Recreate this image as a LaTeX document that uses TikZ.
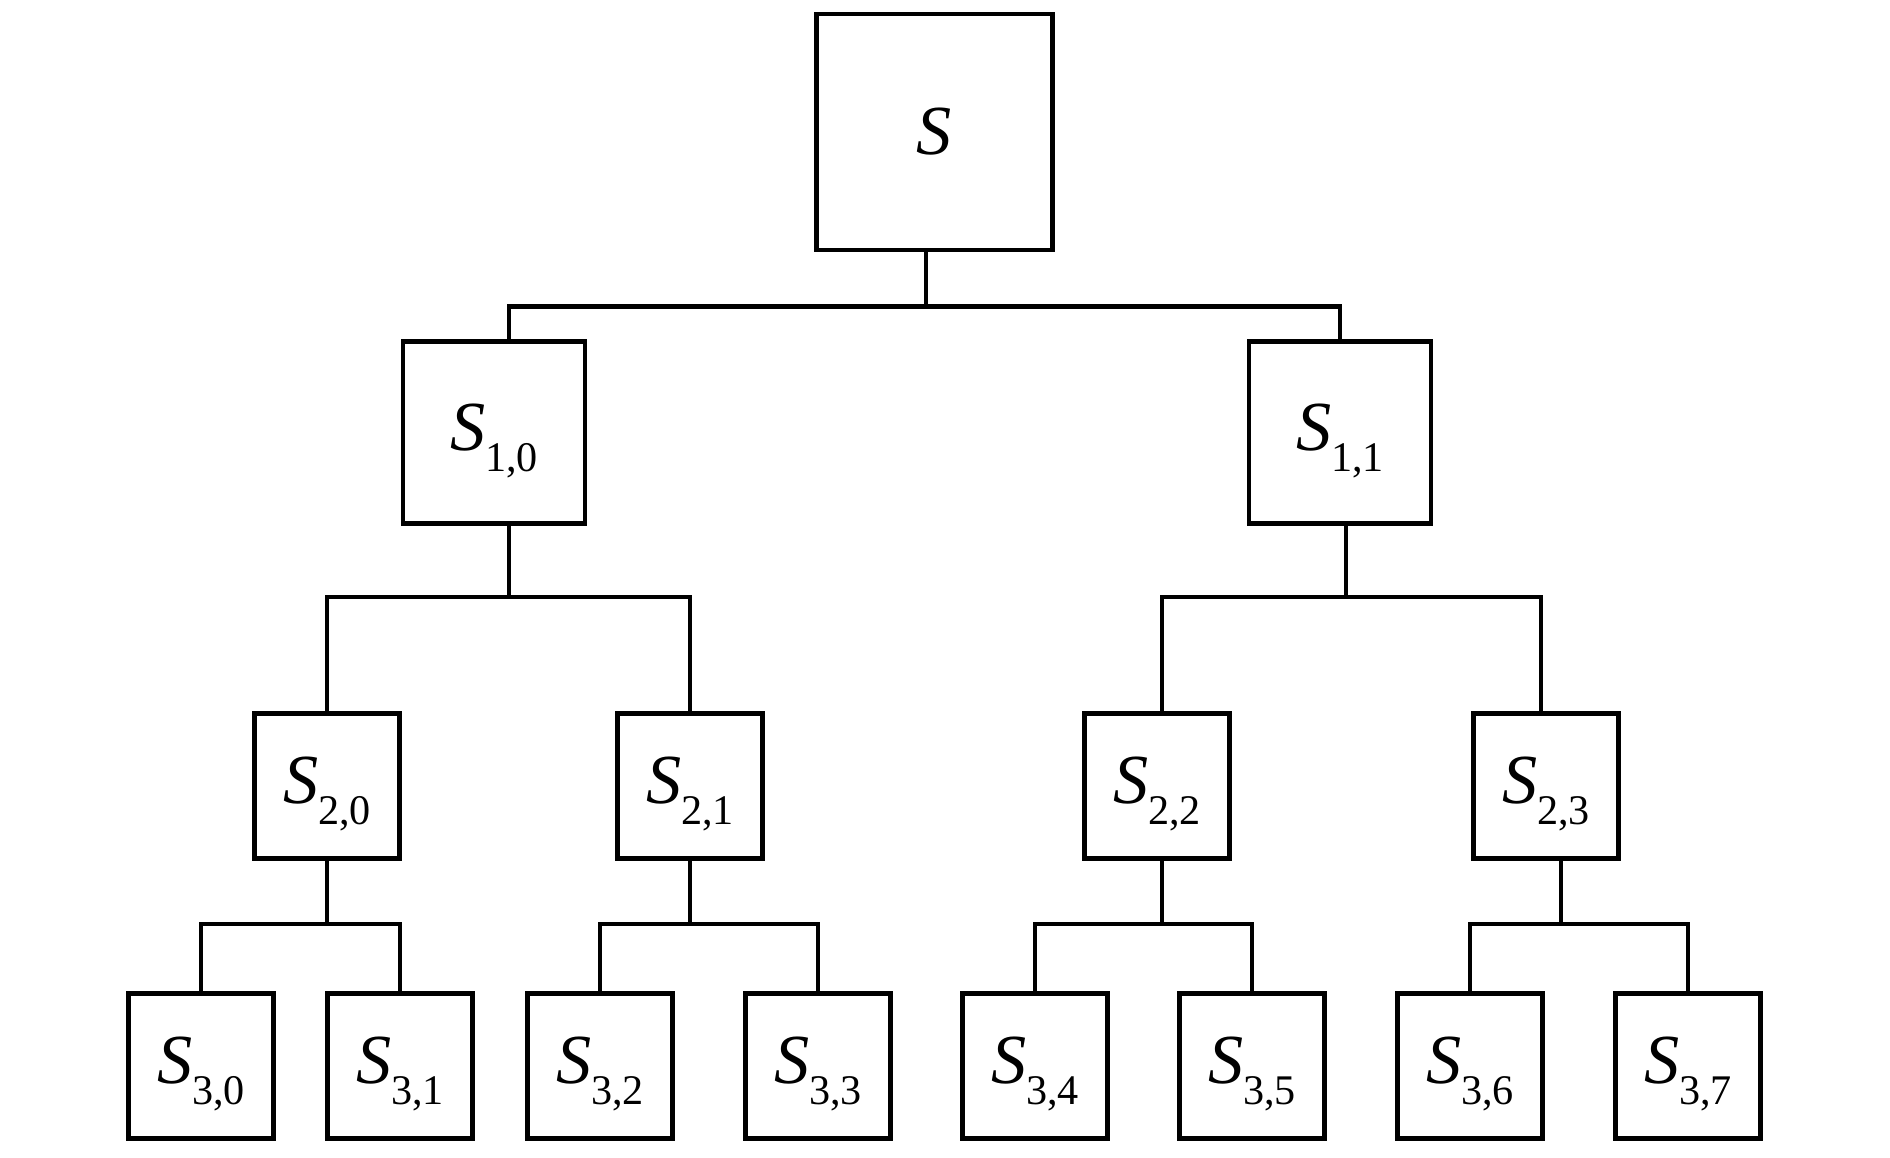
\documentclass[tikz,border=0pt]{standalone}
\usepackage{fontspec}
\setmainfont{Liberation Serif}
\newcommand\slbl[1]{\rule{0pt}{18pt}\textit{S}\raisebox{-6pt}{\fontsize{12}{12}\selectfont #1}}
\tikzset{
  blk/.style={draw, line width=1.3pt, inner sep=0pt, fill=white, font=\fontsize{20}{20}\selectfont},
  link/.style={line width=1.3pt},
}
\begin{document}
\begin{tikzpicture}[x=0.01cm, y=-0.01cm]
\useasboundingbox (0,0) rectangle (1890,1157);
% blocks
\node[blk, minimum size=2.36cm] (S) at (934.5,132) {\textit{S}};
\node[blk, minimum size=1.82cm] (S10) at (494,432.5) {\slbl{1,0}};
\node[blk, minimum size=1.82cm] (S11) at (1340,432.5) {\slbl{1,1}};
\foreach \n/\x in {0/327,1/690,2/1157,3/1546}
  \node[blk, minimum size=1.45cm] (S2\n) at (\x,786) {\slbl{2,\n}};
\foreach \n/\x in {0/201,1/400,2/600,3/818,4/1035,5/1252,6/1470,7/1688}
  \node[blk, minimum size=1.45cm] (S3\n) at (\x,1066) {\slbl{3,\n}};
% links
\draw[link] ([xshift=-0.085cm]S.south) -- ++(0,54) coordinate (b0);
\draw[link] ([xshift=0.15cm]S10.north) |- (b0) -| (S11.north);
\draw[link] ([xshift=0.15cm]S10.south) -- ++(0,71) coordinate (b10);
\draw[link] (S20.north) |- (b10) -| (S21.north);
\draw[link] ([xshift=0.06cm]S11.south) -- ++(0,71) coordinate (b11);
\draw[link] ([xshift=0.05cm]S22.north) |- (b11) -| ([xshift=-0.05cm]S23.north);
\foreach \p/\a/\b/\d in {20/30/31/0,21/32/33/0,22/34/35/0.05,23/36/37/0.15}{
  \draw[link] ([xshift=\d cm]S\p.south) -- ++(0,63) coordinate (b\p);
  \draw[link] (S\a.north) |- (b\p) -| (S\b.north);
}
\end{tikzpicture}
\end{document}
